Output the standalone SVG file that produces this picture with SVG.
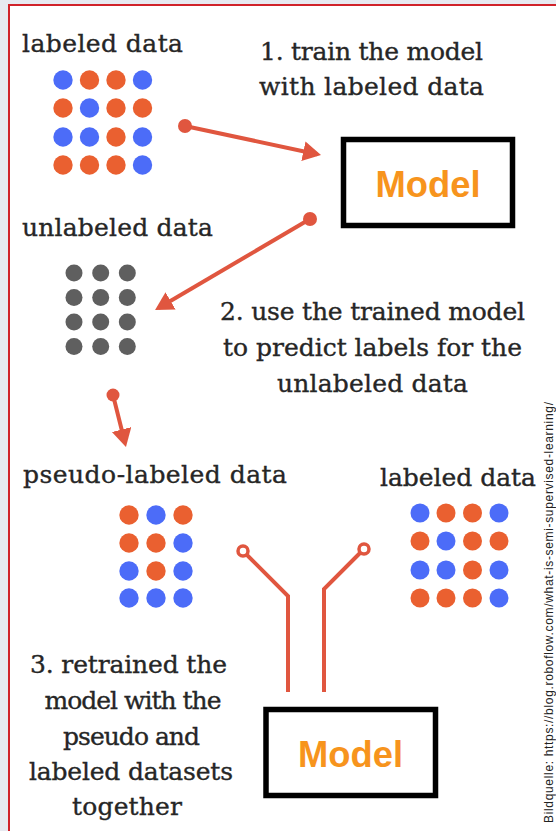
<svg xmlns="http://www.w3.org/2000/svg" width="556" height="831" viewBox="0 0 556 831">
<style>
.t{font-family:"DejaVu Serif",serif;font-size:25px;fill:#262626;stroke:#262626;stroke-width:0.35}
.m{font-family:"Liberation Sans",Arial,sans-serif;font-size:37px;font-weight:bold;fill:#f7941d}
.box{fill:none;stroke:#000;stroke-width:5.5}
.b{fill:#4c6cf8}
.o{fill:#ea6030}
.g{fill:#5f5f5f}
.c{fill:none;stroke:#e0563f;stroke-width:4}
.dot{fill:#e0563f}
.ring{fill:#fff;stroke:#e0563f;stroke-width:3.5}
.src{font-family:"Liberation Sans",Arial,sans-serif;font-size:12px;fill:#222}
</style>
<defs>
<marker id="ah" markerUnits="userSpaceOnUse" markerWidth="20" markerHeight="22" refX="14" refY="10" orient="auto">
<path d="M0,0 L18,10 L0,20 z" fill="#e0563f"/>
</marker>
</defs>
<rect x="0" y="0" width="556" height="831" fill="#e7e9f0"/>
<rect x="9" y="5" width="560" height="840" fill="#fff" stroke="#d0222a" stroke-width="2"/>

<g id="labeled-data-1">
<text class="t" x="22" y="52" textLength="161">labeled data</text>
<circle class="b" cx="63" cy="80" r="9.7"/><circle class="o" cx="89.5" cy="80" r="9.7"/><circle class="o" cx="116" cy="80" r="9.7"/><circle class="b" cx="142.5" cy="80" r="9.7"/>
<circle class="o" cx="63" cy="108" r="9.7"/><circle class="b" cx="89.5" cy="108" r="9.7"/><circle class="o" cx="116" cy="108" r="9.7"/><circle class="o" cx="142.5" cy="108" r="9.7"/>
<circle class="b" cx="63" cy="137" r="9.7"/><circle class="b" cx="89.5" cy="137" r="9.7"/><circle class="o" cx="116" cy="137" r="9.7"/><circle class="b" cx="142.5" cy="137" r="9.7"/>
<circle class="o" cx="63" cy="165" r="9.7"/><circle class="o" cx="89.5" cy="165" r="9.7"/><circle class="o" cx="116" cy="165" r="9.7"/><circle class="b" cx="142.5" cy="165" r="9.7"/>
</g>

<g id="step1-label">
<text class="t" x="260" y="60" textLength="223">1. train the model</text>
<text class="t" x="259" y="95" textLength="225">with labeled data</text>
</g>

<g id="model-1">
<rect class="box" x="343.5" y="139.5" width="169" height="86"/>
<text class="m" x="428" y="197" text-anchor="middle" textLength="105" lengthAdjust="spacingAndGlyphs">Model</text>
</g>

<g id="unlabeled-data">
<text class="t" x="22" y="236" textLength="191">unlabeled data</text>
<circle class="g" cx="74" cy="273" r="8.5"/><circle class="g" cx="100.7" cy="273" r="8.5"/><circle class="g" cx="127.3" cy="273" r="8.5"/>
<circle class="g" cx="74" cy="297.5" r="8.5"/><circle class="g" cx="100.7" cy="297.5" r="8.5"/><circle class="g" cx="127.3" cy="297.5" r="8.5"/>
<circle class="g" cx="74" cy="322" r="8.5"/><circle class="g" cx="100.7" cy="322" r="8.5"/><circle class="g" cx="127.3" cy="322" r="8.5"/>
<circle class="g" cx="74" cy="346.5" r="8.5"/><circle class="g" cx="100.7" cy="346.5" r="8.5"/><circle class="g" cx="127.3" cy="346.5" r="8.5"/>
</g>

<g id="step2-label">
<text class="t" x="220" y="320" textLength="305">2. use the trained model</text>
<text class="t" x="223" y="356" textLength="299">to predict labels for the</text>
<text class="t" x="277" y="392" textLength="191">unlabeled data</text>
</g>

<g id="pseudo-labeled-data">
<text class="t" x="23" y="483" textLength="264">pseudo-labeled data</text>
<circle class="o" cx="129" cy="515" r="9.7"/><circle class="b" cx="156" cy="515" r="9.7"/><circle class="o" cx="183" cy="515" r="9.7"/>
<circle class="o" cx="129" cy="543" r="9.7"/><circle class="o" cx="156" cy="543" r="9.7"/><circle class="b" cx="183" cy="543" r="9.7"/>
<circle class="b" cx="129" cy="571" r="9.7"/><circle class="o" cx="156" cy="571" r="9.7"/><circle class="b" cx="183" cy="571" r="9.7"/>
<circle class="b" cx="129" cy="598" r="9.7"/><circle class="b" cx="156" cy="598" r="9.7"/><circle class="b" cx="183" cy="598" r="9.7"/>
</g>

<g id="labeled-data-2">
<text class="t" x="380" y="486" textLength="156">labeled data</text>
<circle class="b" cx="420" cy="513" r="9.5"/><circle class="o" cx="446" cy="513" r="9.5"/><circle class="o" cx="472.5" cy="513" r="9.5"/><circle class="b" cx="499" cy="513" r="9.5"/>
<circle class="o" cx="420" cy="541" r="9.5"/><circle class="b" cx="446" cy="541" r="9.5"/><circle class="o" cx="472.5" cy="541" r="9.5"/><circle class="o" cx="499" cy="541" r="9.5"/>
<circle class="b" cx="420" cy="570" r="9.5"/><circle class="b" cx="446" cy="570" r="9.5"/><circle class="o" cx="472.5" cy="570" r="9.5"/><circle class="b" cx="499" cy="570" r="9.5"/>
<circle class="o" cx="420" cy="598" r="9.5"/><circle class="o" cx="446" cy="598" r="9.5"/><circle class="o" cx="472.5" cy="598" r="9.5"/><circle class="b" cx="499" cy="598" r="9.5"/>
</g>

<g id="step3-label">
<text class="t" x="128.5" y="673" text-anchor="middle" textLength="197">3. retrained the</text>
<text class="t" x="133" y="709" text-anchor="middle" textLength="177">model with the</text>
<text class="t" x="131.5" y="745" text-anchor="middle" textLength="137">pseudo and</text>
<text class="t" x="131" y="780" text-anchor="middle" textLength="204">labeled datasets</text>
<text class="t" x="127" y="815" text-anchor="middle" textLength="110">together</text>
</g>

<g id="model-2">
<rect class="box" x="266" y="709.5" width="169.5" height="86"/>
<text class="m" x="350.5" y="767" text-anchor="middle" textLength="105" lengthAdjust="spacingAndGlyphs">Model</text>
</g>

<g id="connectors">
<line class="c" x1="185" y1="126" x2="317.1" y2="154.2" marker-end="url(#ah)"/>
<circle class="dot" cx="185" cy="126" r="7"/>
<line class="c" x1="310" y1="219" x2="158.5" y2="308" marker-end="url(#ah)"/>
<circle class="dot" cx="310" cy="219" r="7"/>
<line class="c" x1="113" y1="395" x2="125" y2="443.1" marker-end="url(#ah)"/>
<circle class="dot" cx="113" cy="395" r="6.5"/>
<polyline class="c" points="243,551 288,596 288,692"/>
<circle class="ring" cx="243" cy="551" r="5"/>
<polyline class="c" points="364,549 324,589 324,692"/>
<circle class="ring" cx="364" cy="549" r="5"/>
</g>

<text class="src" transform="translate(553,823) rotate(-90)" textLength="421">Bildquelle: https://blog.roboflow.com/what-is-semi-supervised-learning/</text>
</svg>
